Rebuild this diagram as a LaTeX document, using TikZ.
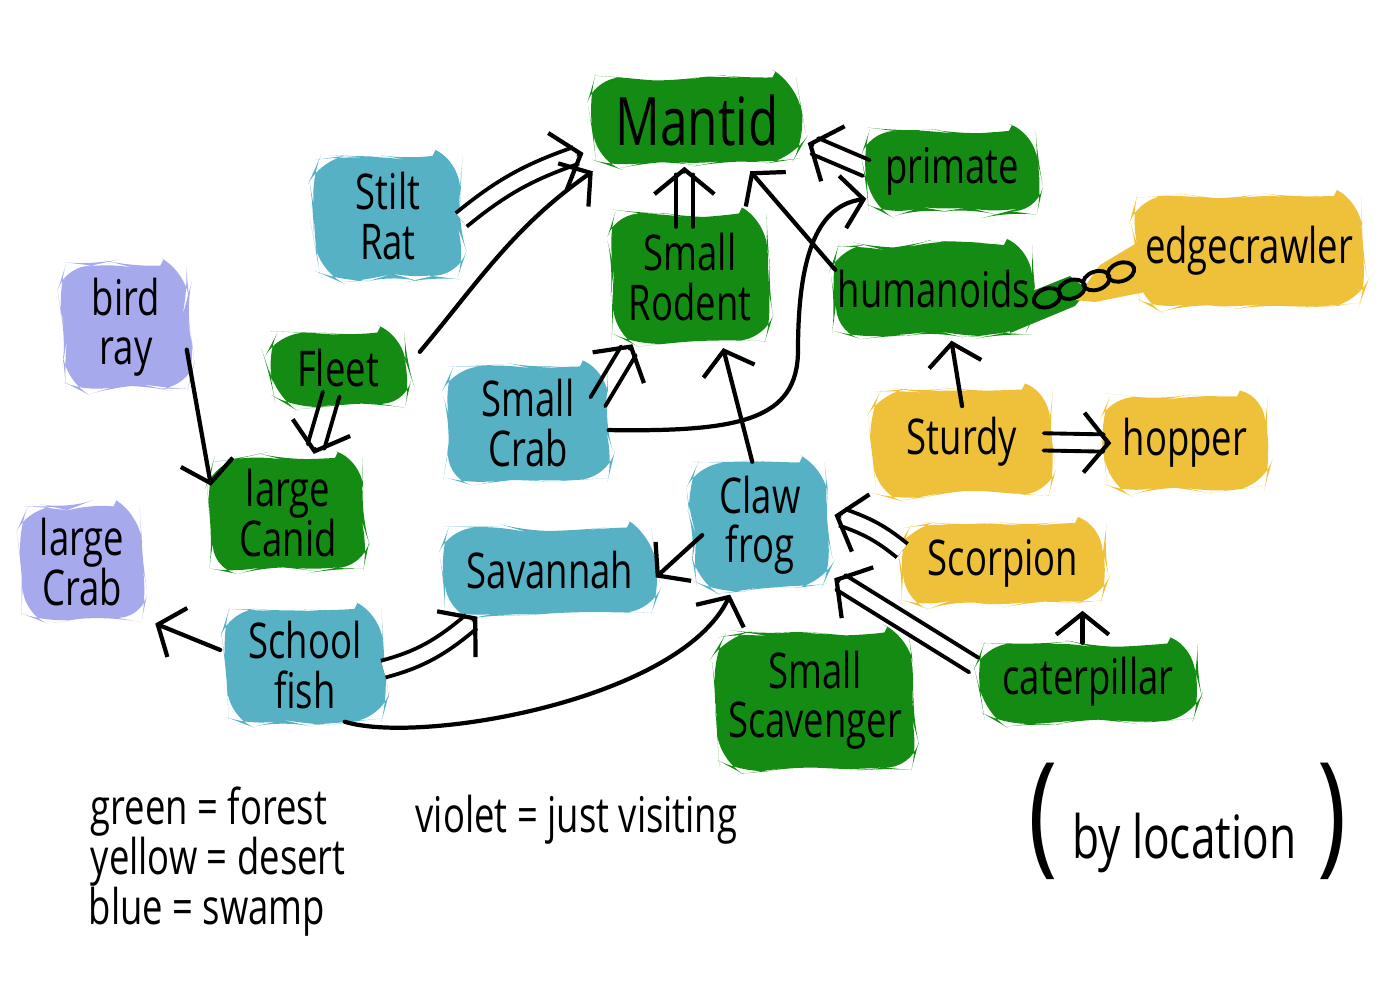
\documentclass[tikz,border=0pt]{standalone}
\usepackage{fontspec}
\setmainfont{Open Sans}[FakeStretch=0.74]
\usetikzlibrary{arrows.meta,decorations.pathmorphing,calc}
\definecolor{fgreen}{RGB}{20,140,20}
\definecolor{sblue}{RGB}{86,177,196}
\definecolor{dyellow}{RGB}{239,193,58}
\definecolor{viol}{RGB}{166,169,236}
\newcommand\mylbl{\fontsize{14}{14}\selectfont}
\newcommand\mybig{\fontsize{19}{19}\selectfont}
\newcommand\myleg{\fontsize{14}{14}\selectfont}
\newcommand\myloc{\fontsize{17}{17}\selectfont}
\newcommand\myparen{\fontsize{38}{38}\selectfont}
% straight double arrow: from, to, gap at tip, start offset
\newcommand\mydbl[4]{%
  \coordinate (dbT) at ($(#2)!#3!(#1)$);
  \coordinate (dbS) at ($(#1)!#4!(#2)$);
  \coordinate (dbE) at ($(dbT)!2.2pt!(dbS)$);
  \draw[dl] ($(dbS)!2.45pt!90:(dbE)$) -- ($(dbE)!2.45pt!-90:(dbS)$);
  \draw[dl] ($(dbS)!2.45pt!-90:(dbE)$) -- ($(dbE)!2.45pt!90:(dbS)$);
  \draw[tipst] ($(dbT)!1pt!(dbS)$) -- (dbT);
}
% curved double arrow: from, to, path operation, gap at tip, angle pointing back from tip
\newcommand\mycdbl[5]{%
  \coordinate (dbT) at ($(#2)!#4!(#1)$);
  \draw[dd] (#1) #3 ($(dbT)+(#5:2.2pt)$);
  \draw[tipst] ($(dbT)+(#5:1pt)$) -- (dbT);
}
\begin{document}
\begin{tikzpicture}[x=0.01cm,y=-0.01cm,
  blob/.style={rounded corners=8pt, align=center, inner sep=0pt, font=\mylbl,
    decorate, decoration={random steps, segment length=7pt, amplitude=1.2pt}},
  one/.style={line width=1.2pt, line cap=round, -{Straight Barb[length=6pt,width=15pt,line width=1.2pt]}},
  tipst/.style={line width=1.2pt, line cap=round, -{Straight Barb[length=7pt,width=17pt,line width=1.2pt]}},
  dl/.style={line width=1.1pt, line cap=round},
  dd/.style={line width=1.1pt, double distance=3.8pt},
  loopy/.style={line width=1.1pt},
]
\pgfmathsetseed{7}
\useasboundingbox (0,0) rectangle (1400,1000);

% tails under the loops between humanoids and edgecrawler
\fill[fgreen] (1010,300) -- (1070,276) -- (1088,290) -- (1075,306) -- (1010,333) -- cycle;
\fill[dyellow] (1075,300) -- (1100,265) -- (1145,238) -- (1145,292) -- (1095,302) -- cycle;

% nodes
\node[blob, fill=fgreen, minimum width=2.07cm, minimum height=0.85cm, font=\mybig] (mantid) at (697,120) {Mantid};
\node[blob, fill=fgreen, minimum width=1.70cm, minimum height=0.80cm] (primate) at (952,171) {primate};
\node[blob, fill=sblue, minimum width=1.45cm, minimum height=1.20cm] (stilt) at (388,216) {Stilt\\Rat};
\node[blob, fill=fgreen, minimum width=1.54cm, minimum height=1.27cm] (rodent) at (690,277) {Small\\Rodent};
\node[blob, fill=fgreen, minimum width=1.96cm, minimum height=0.88cm] (humanoids) at (934,289) {humanoids};
\node[blob, fill=dyellow, minimum width=2.26cm, minimum height=1.10cm] (edge) at (1249,251) {edgecrawler};
\node[blob, fill=viol, minimum width=1.25cm, minimum height=1.23cm] (bird) at (126,327) {bird\\ray};
\node[blob, fill=fgreen, minimum width=1.35cm, minimum height=0.71cm] (fleet) at (338,368) {Fleet};
\node[blob, fill=sblue, minimum width=1.60cm, minimum height=1.13cm] (crab) at (528,423) {Small\\Crab};
\node[blob, fill=dyellow, minimum width=1.76cm, minimum height=1.05cm] (sturdy) at (962,442) {Sturdy};
\node[blob, fill=dyellow, minimum width=1.60cm, minimum height=0.93cm] (hopper) at (1185,443) {hopper};
\node[blob, fill=fgreen, minimum width=1.50cm, minimum height=1.10cm] (canid) at (288,513) {large\\Canid};
\node[blob, fill=sblue, minimum width=1.35cm, minimum height=1.25cm] (frog) at (760,525) {Claw\\frog};
\node[blob, fill=viol, minimum width=1.19cm, minimum height=1.11cm] (lcrab) at (82,562) {large\\Crab};
\node[blob, fill=sblue, minimum width=2.10cm, minimum height=0.85cm] (savannah) at (550,570) {Savannah};
\node[blob, fill=dyellow, minimum width=2.00cm, minimum height=0.80cm] (scorpion) at (1003,563) {Scorpion};
\node[blob, fill=sblue, minimum width=1.55cm, minimum height=1.12cm] (fish) at (305,665) {School\\fish};
\node[blob, fill=fgreen, minimum width=2.15cm, minimum height=0.77cm] (cater) at (1088,682) {caterpillar};
\node[blob, fill=fgreen, minimum width=1.95cm, minimum height=1.35cm] (scav) at (815,700) {Small\\Scavenger};

% connectors
\mycdbl{stilt.-3}{mantid.195}{to[bend left=10]}{3pt}{198}
\draw[one, shorten <=6pt, shorten >=4pt] (fleet.east) to[out=50,in=215] (mantid.205);
\coordinate (rmtop) at (rodent.95 |- mantid.south);
\mydbl{rodent.95}{rmtop}{1pt}{-4pt}
\draw[one, shorten >=3pt] (humanoids.169) -- (mantid.-43);
\mydbl{primate.178}{mantid.-11}{2pt}{0pt}
\mydbl{crab.26}{rodent.229}{1pt}{-6pt}
\draw[one] (crab.-5) .. controls (740,432) and (798,420) .. (798,350)
  .. controls (798,250) and (820,205) .. (primate.198);
\draw[one, shorten >=2pt] (frog.97) -- (rodent.-64);
\draw[one, shorten <=-5pt, shorten >=2pt] (sturdy.93) -- (humanoids.-70);
\mydbl{sturdy.east}{hopper.west}{-2pt}{-2pt}
\foreach \t in {0.14,0.38,0.62,0.86}{
  \begin{scope}[shift={($(humanoids.-8)!\t!(edge.188)$)}, rotate=19]
    \draw[loopy] (0,0) ellipse [x radius=3.9pt, y radius=2.6pt];
  \end{scope}
}
\draw[one, shorten <=-4pt, shorten >=2pt] (bird.-30) -- (canid.165);
\mydbl{fleet.-105}{canid.66}{1pt}{-3pt}
\draw[one, shorten <=-4pt] (frog.196) -- (savannah.-4);
\draw[one, shorten <=2pt, shorten >=4pt] (fish.171) -- (lcrab.south east);
\mycdbl{fish.-3}{savannah.213}{to[out=15,in=220]}{2pt}{220}
\draw[one, shorten >=2pt] (fish.-55) .. controls (420,745) and (680,700) .. (frog.247);
\mycdbl{scorpion.173}{frog.11}{to[bend right=10]}{2pt}{343}
\draw[one, shorten >=2pt] (cater.98) -- (cater.98 |- scorpion.south);
\mydbl{cater.173}{frog.-36}{2pt}{2pt}

% legend
\node[anchor=base west, font=\myleg, inner sep=0pt] (lg1) at (90,824) {green = forest};
\node[anchor=base west, font=\myleg, inner sep=0pt] (lg2) at (90,874) {yellow = desert};
\node[anchor=base west, font=\myleg, inner sep=0pt] (lg3) at (88,924) {blue = swamp};
\node[anchor=base west, font=\myleg, inner sep=0pt] (lg4) at (415,832) {violet = just visiting};
\node[anchor=base west, font=\myloc, inner sep=0pt] (loc) at (1028,858) {{\myparen(}\hspace{4pt}by location\hspace{6pt}{\myparen)}};
\end{tikzpicture}
\end{document}
